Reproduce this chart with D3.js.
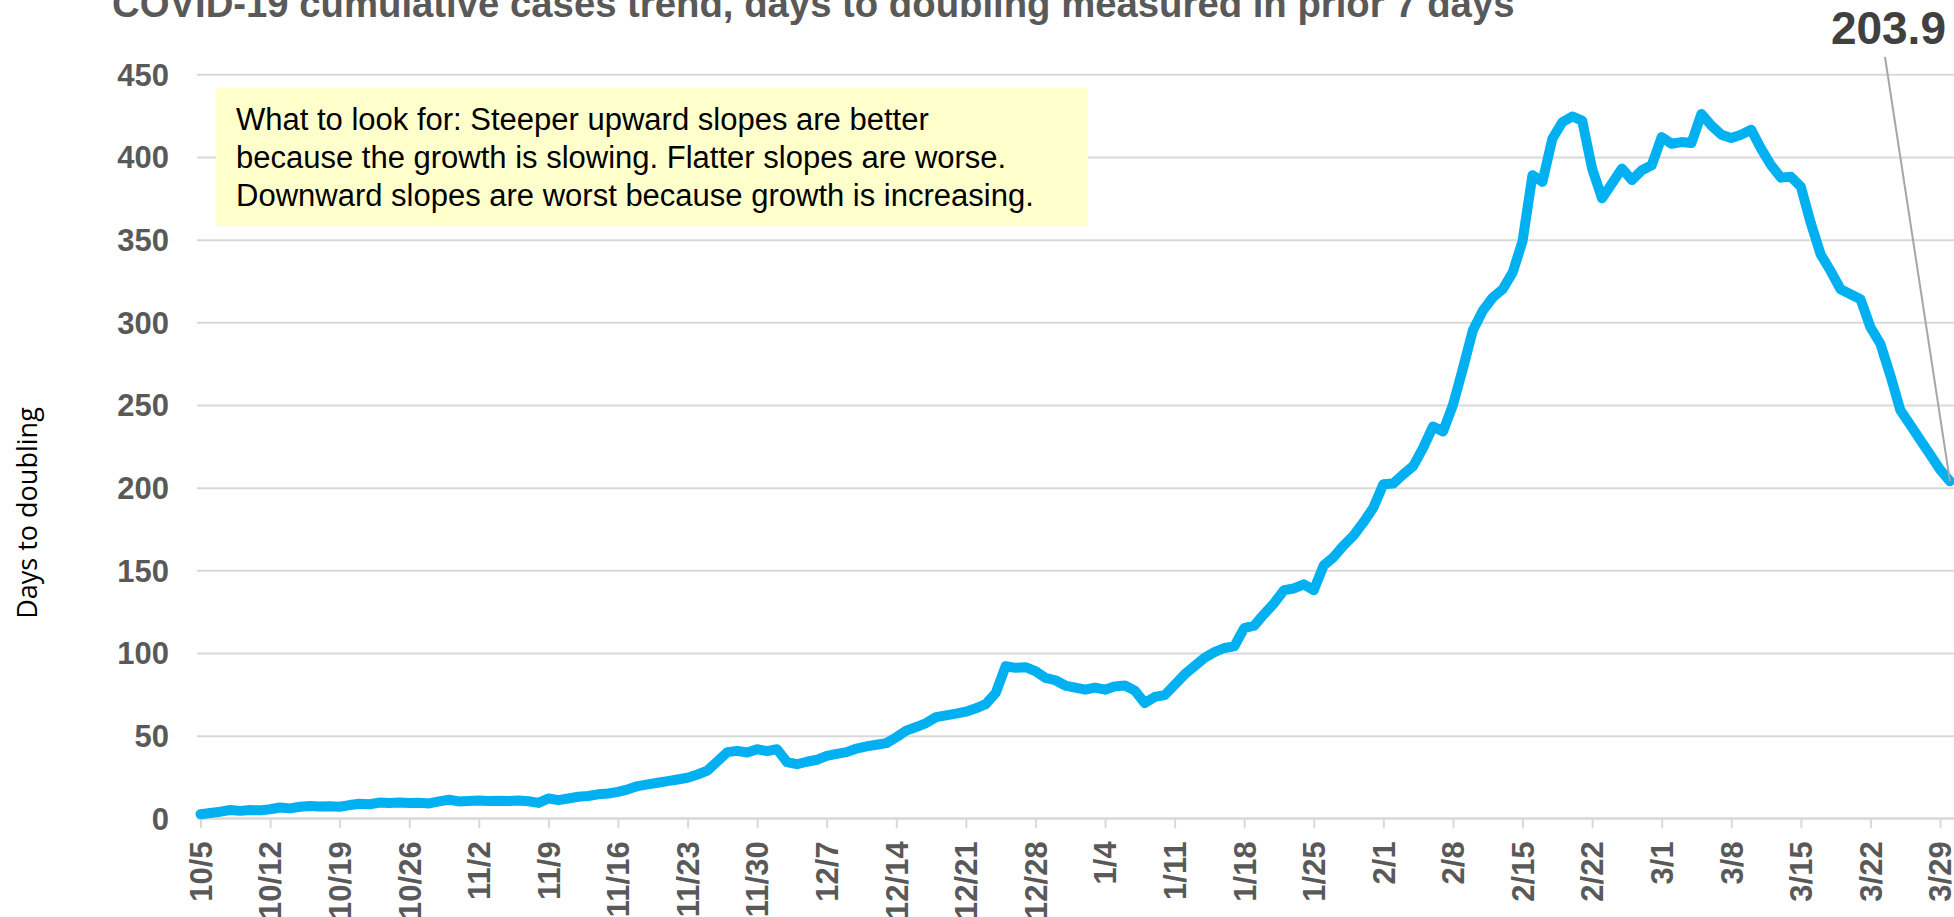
<!DOCTYPE html>
<html>
<head>
<meta charset="utf-8">
<script src="https://cdn.jsdelivr.net/npm/d3@7"></script>
<style>
  html, body { margin: 0; padding: 0; background: #ffffff; }
  svg { display: block; }
</style>
</head>
<body>
<svg id="chart" width="1954" height="917"></svg>
<script>
// ---- Data ----
const startDate = "2020-10-05";
const daysToDoubling = [
  2.5, 3.2, 4, 5, 4.5, 5, 4.8, 5.5, 6.5, 6,
  7, 7.5, 7.2, 7.3, 7, 8, 8.8, 8.5, 9.5, 9.3,
  9.5, 9.2, 9.4, 9.0, 10.2, 11.2, 10.2, 10.5, 10.8, 10.5,
  10.6, 10.5, 10.7, 10.3, 9.3, 12, 11, 12, 13, 13.5,
  14.5, 15, 16, 17.5, 19.5, 20.5, 21.5, 22.5, 23.5, 24.5,
  26.5, 28.9, 34.4, 40, 40.8, 39.8, 41.8, 40.6, 41.8, 34,
  32.7, 34.2, 35.4, 37.8, 39, 40, 42.2, 43.5, 44.5, 45.5,
  49, 53, 55.2, 57.6, 61.2, 62.3, 63.3, 64.5, 66.5, 69.1,
  75.8, 92, 91, 91.4, 89, 84.9, 83.5, 80.3, 79, 77.8,
  79, 77.8, 79.8, 80.3, 77.2, 69.7, 73.4, 74.5, 80.7, 87,
  92, 97, 100.5, 103, 104, 115, 116.5, 123.5, 130, 138,
  139, 141.5, 138, 153, 158, 165, 171, 179, 188, 202,
  202.5, 208, 213, 224, 237, 234, 250, 272, 295, 307,
  315, 320, 330, 349, 389, 385, 411, 421, 424.5, 422,
  393, 375, 384, 393, 386, 392, 395, 412, 408, 409,
  408.5, 426, 419, 413.5, 411.5, 413.5, 416.5, 405, 395, 387.5,
  388, 382, 360, 341, 331, 320, 317, 314, 297, 287,
  268, 247, 238, 229, 220, 211, 203.9
];
const xTickLabels = ["10/5","10/12","10/19","10/26","11/2","11/9","11/16","11/23","11/30",
  "12/7","12/14","12/21","12/28","1/4","1/11","1/18","1/25","2/1","2/8","2/15","2/22",
  "3/1","3/8","3/15","3/22","3/29"];
const yTicks = [0, 50, 100, 150, 200, 250, 300, 350, 400, 450];
const titleText = "COVID-19 cumulative cases trend, days to doubling measured in prior 7 days";
const yAxisTitle = "Days to doubling";
const noteLines = [
  "What to look for: Steeper upward slopes are better",
  "because the growth is slowing. Flatter slopes are worse.",
  "Downward slopes are worst because growth is increasing."
];
const lastLabel = "203.9";

// ---- Build dated series ----
const parse = d3.timeParse("%Y-%m-%d");
const d0 = parse(startDate);
const dates = d3.range(daysToDoubling.length).map(i => d3.timeDay.offset(d0, i));
const series = dates.map((d, i) => ({ date: d, value: daysToDoubling[i] }));
const tickDates = xTickLabels.map((_, i) => d3.timeDay.offset(d0, i * 7));

// ---- Layout ----
const svg = d3.select("#chart");
const W = 1954, H = 917;
const plotLeft = 197, plotRight = 1954;
const yTop = 74.3, yBottom = 818.3;

svg.append("rect").attr("width", W).attr("height", H).attr("fill", "#ffffff");

const x = d3.scaleTime()
  .domain([d0, dates[dates.length - 1]])
  .range([200.5, 200.5 + 9.94 * (dates.length - 1)]);
const y = d3.scaleLinear().domain([0, 450]).range([yBottom, yTop]);

// Gridlines
const grid = svg.append("g")
  .attr("transform", `translate(${plotLeft},0)`)
  .call(d3.axisLeft(y).tickValues(yTicks).tickSize(-(plotRight - plotLeft)).tickFormat(""));
grid.select(".domain").remove();
grid.selectAll(".tick line").attr("stroke", "#D9D9D9").attr("stroke-width", 2);

// Y tick labels
const yAxis = svg.append("g")
  .attr("transform", `translate(${plotLeft},0)`)
  .call(d3.axisLeft(y).tickValues(yTicks).tickSize(0).tickPadding(28));
yAxis.select(".domain").remove();
yAxis.selectAll("text")
  .attr("fill", "#595959")
  .style("font-family", "'Liberation Sans', Arial, sans-serif")
  .style("font-weight", "bold")
  .style("font-size", "31px")
  .attr("dy", "0.35em");

// X axis
const xAxis = svg.append("g")
  .attr("transform", `translate(0,${yBottom})`)
  .call(d3.axisBottom(x).tickValues(tickDates).tickSize(10)
    .tickFormat((d, i) => xTickLabels[i]));
xAxis.select(".domain").remove();
xAxis.append("line")
  .attr("x1", plotLeft).attr("x2", plotRight).attr("y1", 0).attr("y2", 0)
  .attr("stroke", "#D9D9D9").attr("stroke-width", 2);
xAxis.selectAll(".tick line").attr("stroke", "#D9D9D9").attr("stroke-width", 2);
xAxis.selectAll(".tick text")
  .attr("fill", "#595959")
  .style("font-family", "'Liberation Sans', Arial, sans-serif")
  .style("font-weight", "bold")
  .style("font-size", "31px")
  .attr("text-anchor", "end")
  .attr("transform", "rotate(-90)")
  .attr("x", -23)
  .attr("y", 0)
  .attr("dy", "0.35em");

// Annotation box
const box = svg.append("g");
box.append("rect")
  .attr("x", 216).attr("y", 88).attr("width", 872).attr("height", 138)
  .attr("fill", "#FFFFCC");
box.selectAll("text.note").data(noteLines).enter().append("text")
  .attr("class", "note")
  .attr("x", 236)
  .attr("y", (d, i) => 130 + i * 37.8)
  .attr("fill", "#000000")
  .style("font-family", "'Liberation Sans', Arial, sans-serif")
  .style("font-size", "31px")
  .text(d => d);

// Data line
const line = d3.line().x(d => x(d.date)).y(d => y(d.value));
svg.append("path")
  .datum(series)
  .attr("d", line)
  .attr("fill", "none")
  .attr("stroke", "#00B0F0")
  .attr("stroke-width", 10)
  .attr("stroke-linejoin", "round")
  .attr("stroke-linecap", "round");

// Last-value label with leader line
const last = series[series.length - 1];
svg.append("line")
  .attr("x1", 1885).attr("y1", 57)
  .attr("x2", x(last.date)).attr("y2", y(last.value))
  .attr("stroke", "#A6A6A6").attr("stroke-width", 2);
svg.append("text")
  .attr("x", 1946).attr("y", 44)
  .attr("text-anchor", "end")
  .attr("fill", "#404040")
  .style("font-family", "'Liberation Sans', Arial, sans-serif")
  .style("font-weight", "bold")
  .style("font-size", "46px")
  .text(lastLabel);

// Title
svg.append("text")
  .attr("x", 112).attr("y", 17)
  .attr("fill", "#595959")
  .style("font-family", "'Liberation Sans', Arial, sans-serif")
  .style("font-weight", "bold")
  .style("font-size", "38.3px")
  .text(titleText);

// Y axis title
svg.append("text")
  .attr("transform", "translate(36.5,513) rotate(-90)")
  .attr("text-anchor", "middle")
  .attr("fill", "#000000")
  .style("font-family", "'Open Sans', sans-serif")
  .style("font-size", "27px")
  .text(yAxisTitle);
</script>
</body>
</html>
